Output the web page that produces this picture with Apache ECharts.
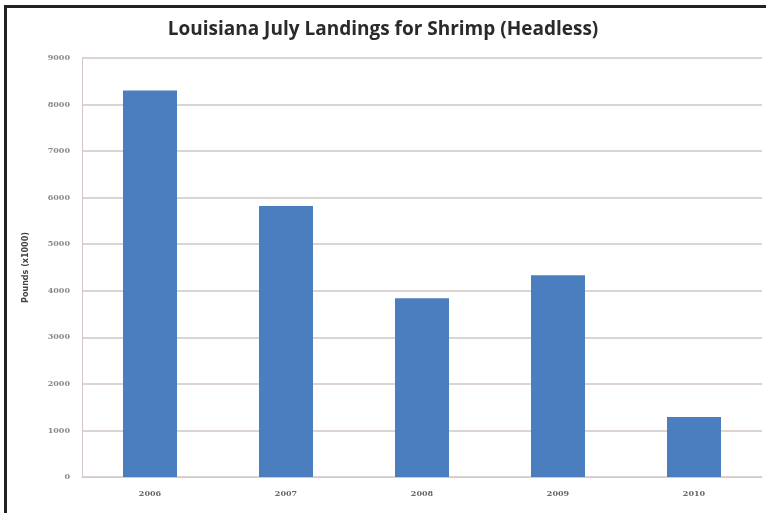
<!DOCTYPE html>
<html>
<head>
<meta charset="utf-8">
<script src="https://cdn.jsdelivr.net/npm/echarts@6/dist/echarts.min.js"></script>
<style>
    html, body { margin: 0; padding: 0; background: #fff; }
    #frame { position: absolute; left: 4px; top: 5px; width: 762px; height: 508px;
             border-left: 3px solid #222; border-top: 3px solid #222; box-sizing: border-box; }
    #chart { position: absolute; left: 0; top: 0; width: 766px; height: 513px; }
</style>
</head>
<body>
<div id="chart"></div>
<div id="frame"></div>
<script>
var years = ['2006', '2007', '2008', '2009', '2010'];
var landings = [8300, 5820, 3840, 4335, 1290];
var yTicks = { min: 0, max: 9000, step: 1000 };

var chart = echarts.init(document.getElementById('chart'));

var option = {
    backgroundColor: '#fff',
    animation: false,
    title: {
        text: 'Louisiana July Landings for Shrimp (Headless)',
        left: 'center',
        top: 15,
        textStyle: { fontFamily: 'Open Sans', fontSize: 19, fontWeight: 'bold', color: '#2a2a2a' }
    },
    grid: { left: 82, right: 4, top: 58, bottom: 36 },
    xAxis: {
        type: 'category',
        data: years,
        axisLine: { lineStyle: { color: '#d5c8c8', width: 1 } },
        axisTick: { show: false },
        axisLabel: { margin: 13, fontSize: 8, fontWeight: 'bold', color: '#666', fontFamily: 'DejaVu Serif' }
    },
    yAxis: {
        type: 'value',
        min: yTicks.min,
        max: yTicks.max,
        interval: yTicks.step,
        name: 'Pounds (x1000)',
        nameLocation: 'middle',
        nameGap: 52,
        nameTextStyle: { fontSize: 8, fontWeight: 'bold', color: '#444', fontFamily: 'DejaVu Sans' },
        axisLine: { show: true, lineStyle: { color: '#d5c8c8' } },
        axisTick: { show: false },
        axisLabel: {
            margin: 12, fontSize: 8, fontWeight: 'bold', color: '#888', fontFamily: 'DejaVu Serif',
            formatter: function (v) { return String(v); }
        },
        splitLine: { lineStyle: { color: '#d0c4c4', width: 1.5 } }
    },
    series: [{
        type: 'bar',
        data: landings,
        barWidth: 54,
        itemStyle: { color: '#4a7ebf' }
    }]
};

chart.setOption(option);
</script>
</body>
</html>
